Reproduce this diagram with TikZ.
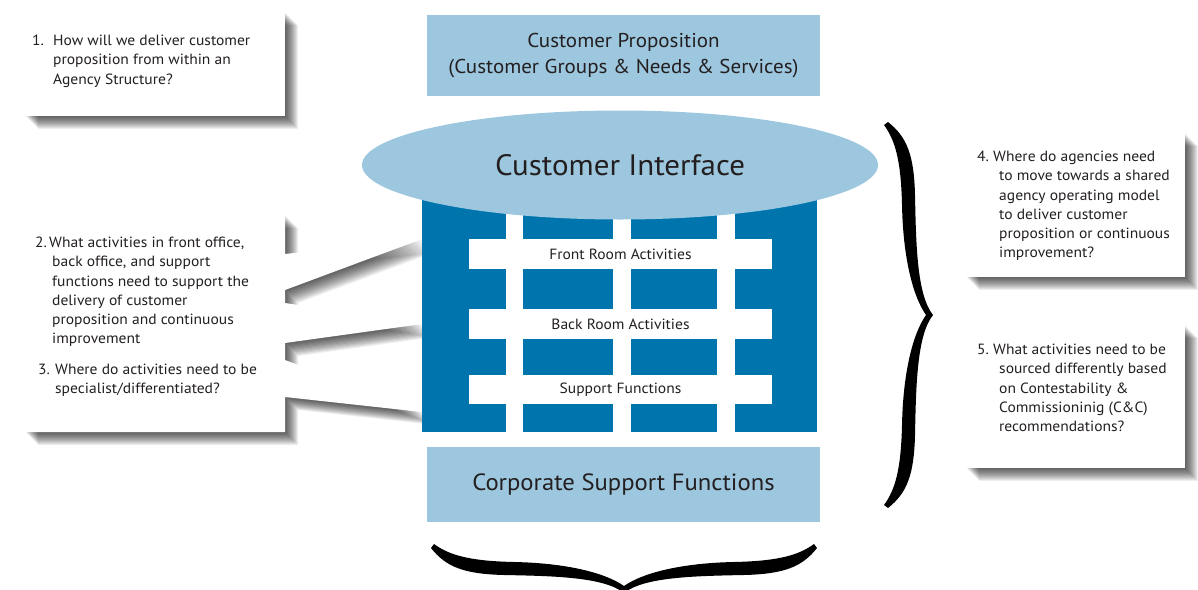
\documentclass[tikz,border=0pt]{standalone}
\usepackage{fontspec}
\setmainfont{PT Sans}[FakeStretch=1.05]
\usetikzlibrary{shapes.geometric}

\definecolor{paleblue}{RGB}{157,199,222}
\definecolor{deepblue}{RGB}{0,117,173}
\definecolor{ink}{RGB}{35,31,32}

\tikzset{
  % soft drop shadow: translucent copies of the outline, stepped down and right
  ply/.style={preaction={fill=black, fill opacity=0.065, draw=none,
      transform canvas={xshift=#1pt, yshift=-#1pt}}},
  paper/.style={ply=1, ply=2, ply=3, ply=4, ply=5, ply=6, ply=7, ply=8,
    ply=9, ply=10, ply=11, ply=12, ply=13, fill=white},
  qtext/.style={anchor=north west, inner sep=0pt, align=left, text=ink,
      font=\fontsize{14.8}{19.2}\selectfont},
  slab/.style={fill=paleblue, inner sep=0pt, text=ink},
  bar/.style={fill=white, inner sep=0pt, minimum width=303pt, minimum height=30pt,
      text=ink, font=\fontsize{14.8}{16}\selectfont},
  brace shape/.pic={
    \fill[black]
      (-193,3) .. controls (-178,22) and (-160,29) .. (-120,30)
      .. controls (-70,31) and (-20,32) .. (0,48)
      .. controls (20,32) and (70,31) .. (120,30)
      .. controls (160,29) and (178,22) .. (193,3)
      -- (190,-1)
      .. controls (175,10) and (155,16) .. (110,17)
      .. controls (60,18) and (20,27) .. (0,41)
      .. controls (-20,27) and (-60,18) .. (-110,17)
      .. controls (-155,16) and (-175,10) .. (-190,-1)
      -- cycle;
  }
}

\begin{document}
\begin{tikzpicture}[x=1pt, y=-1pt]
\useasboundingbox[fill=white] (0,0) rectangle (1198,589);

% question cards on the left
\node[paper, anchor=north west, minimum width=260pt, minimum height=104pt, inner sep=0pt]
  (card1) at (25,12) {};
\node[qtext] (q1) at (32,35)
  {\makebox[21pt][l]{1.}How will we deliver customer\\
   \hspace*{21pt}proposition from within an\\
   \hspace*{21pt}Agency Structure?};

% speech card with three pointers into the activity grid
\path[paper] (25,215) -- (285,215) -- (285,254) -- (422,239) -- (285,290)
  -- (285,303) -- (422,324) -- (285,343)
  -- (285,360) -- (422,412) -- (285,397)
  -- (285,432) -- (25,432) -- cycle;
\node[qtext] (q2) at (35,237)
  {\makebox[14pt][l]{2.}What activities in front office,\\
   \hspace*{17pt}back office, and support\\
   \hspace*{17pt}functions need to support the\\
   \hspace*{17pt}delivery of customer\\
   \hspace*{17pt}proposition and continuous\\
   \hspace*{17pt}improvement};
\node[qtext] (q3) at (38,364)
  {\makebox[17pt][l]{3.}Where do activities need to be\\
   \hspace*{17pt}specialist/differentiated?};

% activity grid
\node[fill=deepblue, anchor=north west, inner sep=0pt, minimum width=395pt,
  minimum height=247pt] (core) at (422,185) {};
\fill[white] (506,185) rectangle (523,432);
\fill[white] (613,185) rectangle (631,432);
\fill[white] (717,185) rectangle (735,432);
\node[bar] (front) at (620.5,254) {Front Room Activities};
\node[bar] (back) at (620.5,324) {Back Room Activities};
\node[bar, minimum height=29pt] (support) at (620.5,389.5) {Support Functions};

% customer layers
\node[slab, minimum width=393pt, minimum height=81pt, align=center,
  font=\fontsize{20}{26}\selectfont] (prop) at (623.5,55.5)
  {Customer Proposition\\(Customer Groups \& Needs \& Services)};
\node[slab, ellipse, minimum width=516pt, minimum height=109pt,
  font=\fontsize{29.5}{32}\selectfont] (iface) at (620,165) {Customer Interface};
\node[slab, minimum width=393pt, minimum height=75pt,
  font=\fontsize{23.5}{26}\selectfont] (corp) at (623.5,484.5) {Corporate Support Functions};

% braces
\pic at (624,545) {brace shape};
\pic[rotate=90] at (885,315) {brace shape};

% question cards on the right
\node[paper, anchor=north west, minimum width=219pt, minimum height=144pt, inner sep=0pt]
  (card4) at (966,133) {};
\node[qtext] (q4) at (977,151)
  {\makebox[16pt][l]{4.}Where do agencies need\\
   \hspace*{22pt}to move towards a shared\\
   \hspace*{22pt}agency operating model\\
   \hspace*{22pt}to deliver customer\\
   \hspace*{22pt}proposition or continuous\\
   \hspace*{22pt}improvement?};
\node[paper, anchor=north west, minimum width=219pt, minimum height=143pt, inner sep=0pt]
  (card5) at (966,325) {};
\node[qtext] (q5) at (977,344)
  {\makebox[16pt][l]{5.}What activities need to be\\
   \hspace*{22pt}sourced differently based\\
   \hspace*{22pt}on Contestability \&\\
   \hspace*{22pt}Commissioninig (C\&C)\\
   \hspace*{22pt}recommendations?};
\end{tikzpicture}
\end{document}
